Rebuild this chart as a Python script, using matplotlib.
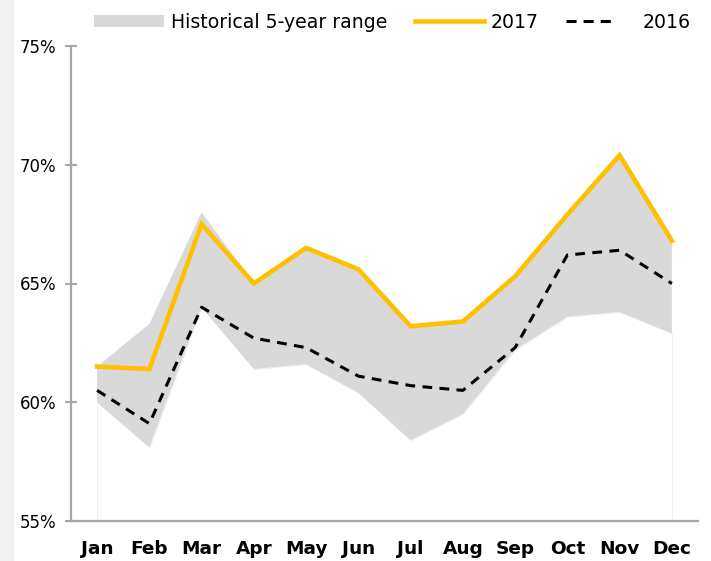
import numpy as np
from matplotlib import pyplot as plt
from matplotlib.patches import Patch, Rectangle
from matplotlib.lines import Line2D
from matplotlib.ticker import FuncFormatter


months = ['Jan','Feb','Mar','Apr','May','Jun','Jul','Aug','Sep','Oct','Nov','Dec']

# historical 5 year band (low / high), in %
hist_low  = [60.0, 58.1, 64.0, 61.4, 61.6, 60.4, 58.4, 59.5, 62.2, 63.6, 63.8, 62.9]
hist_high = [61.5, 63.3, 68.0, 65.0, 66.5, 65.6, 63.2, 63.4, 65.3, 67.8, 70.4, 66.8]

y2017 = [61.5, 61.4, 67.5, 65.0, 66.5, 65.6, 63.2, 63.4, 65.3, 67.9, 70.4, 66.8]
y2016 = [60.5, 59.1, 64.0, 62.7, 62.3, 61.1, 60.7, 60.5, 62.3, 66.2, 66.4, 65.0]

yticks = [55, 60, 65, 70, 75]


plt.rcParams['font.family'] = ['DejaVu Sans']

fig = plt.figure(figsize=(7.11,5.61), dpi=100)
# light grey strip down the left edge
fig.patches.append(Rectangle((0,0), 13/711., 1, transform=fig.transFigure, color='#f2f2f2', zorder=0))

ax = fig.add_axes([71/711., 40/561., 627/711., 475/561.])

x = np.arange(len(months))

# white base up to the low end of the band, then the grey range
ax.fill_between(x, yticks[0], hist_low, facecolor='white', edgecolor='#eeeeee', lw=0.6, zorder=1)
ax.fill_between(x, hist_low, hist_high, facecolor='#d9d9d9', edgecolor='none', zorder=2)

ax.plot(x, y2017, color='#ffc000', lw=3.3, solid_joinstyle='miter', zorder=4)
ax.plot(x, y2016, color='black', lw=2.2, dashes=(3.2,2.4), zorder=3)

ax.set_xlim(-0.5, len(months)-0.5)
ax.set_ylim(yticks[0], yticks[-1])
ax.set_xticks(x)
ax.set_xticklabels(months, fontsize=13.3, fontweight='bold')
ax.set_yticks(yticks)
ax.yaxis.set_major_formatter(FuncFormatter(lambda v, p: '%d%%' % v))

for s in ['top','right']:
    ax.spines[s].set_visible(False)
for s in ['left','bottom']:
    ax.spines[s].set_color('#a6a6a6')
    ax.spines[s].set_linewidth(1.6)

ax.tick_params(axis='x', length=0, pad=14)
ax.tick_params(axis='y', direction='inout', length=9, width=1.5, color='#a6a6a6', pad=6, labelsize=12)

# legend: dashed handle shows only three dashes, like the original
handles = [Patch(facecolor='#d9d9d9', edgecolor='none'),
           Line2D([], [], color='#ffc000', lw=3.3),
           Line2D([], [], color='black', lw=2.2, dashes=(3.3,2.3,3.3,2.3,3.3,20))]
labels = ['Historical 5-year range', '2017', '2016']
ax.legend(handles, labels, ncol=3, loc='center', bbox_to_anchor=(0.513, 1.05), frameon=False,
          fontsize=13.6, handlelength=3.7, handleheight=0.6, columnspacing=1.45, handletextpad=0.35)

fig.savefig('out.png', dpi=100)
